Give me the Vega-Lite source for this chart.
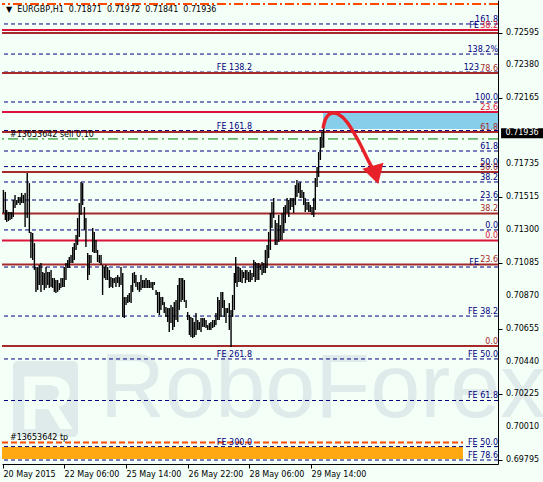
{
"$schema":"https://vega.github.io/schema/vega-lite/v6.json",
"width":496,"height":464,
"autosize":{"type":"none"},
"padding":{"left":2,"top":0,"right":45,"bottom":18},
"background":"#f4fff8",
"config":{"view":{"stroke":null},"text":{"font":"DejaVu Sans","fontSize":8},"axis":{"labelFont":"DejaVu Sans","labelFontSize":8,"labelColor":"#000000","tickColor":"#000000","domainColor":"#000000","grid":false,"title":null,"labelOverlap":false,"zindex":1}},
"datasets":{
"bars":[{"i":0.2,"lo":0.71413,"hi":0.71564},{"i":1.2,"lo":0.71367,"hi":0.71551},{"i":1.9,"lo":0.71354,"hi":0.71433},{"i":2.8,"lo":0.7136,"hi":0.7142},{"i":3.6,"lo":0.71367,"hi":0.7142},{"i":4.5,"lo":0.71374,"hi":0.7142},{"i":5.3,"lo":0.71387,"hi":0.71498},{"i":6.2,"lo":0.71446,"hi":0.71531},{"i":7.1,"lo":0.71465,"hi":0.71498},{"i":7.9,"lo":0.71478,"hi":0.71518},{"i":8.8,"lo":0.71465,"hi":0.71518},{"i":9.6,"lo":0.71478,"hi":0.71544},{"i":10.5,"lo":0.71478,"hi":0.71531},{"i":11.4,"lo":0.71321,"hi":0.71544},{"i":12.5,"lo":0.7138,"hi":0.71675},{"i":13.6,"lo":0.71282,"hi":0.71609},{"i":14.4,"lo":0.71118,"hi":0.71289},{"i":15.3,"lo":0.71105,"hi":0.71282},{"i":16.2,"lo":0.7104,"hi":0.71216},{"i":17,"lo":0.70896,"hi":0.71059},{"i":17.9,"lo":0.70909,"hi":0.71059},{"i":18.7,"lo":0.70941,"hi":0.71072},{"i":19.6,"lo":0.70896,"hi":0.71085},{"i":20.5,"lo":0.70941,"hi":0.71027},{"i":21.3,"lo":0.70909,"hi":0.7102},{"i":22.2,"lo":0.70922,"hi":0.71059},{"i":23.1,"lo":0.70941,"hi":0.71027},{"i":23.9,"lo":0.70922,"hi":0.71027},{"i":24.8,"lo":0.70928,"hi":0.7104},{"i":25.6,"lo":0.70922,"hi":0.70987},{"i":26.5,"lo":0.70896,"hi":0.70987},{"i":27.3,"lo":0.70889,"hi":0.70974},{"i":28.2,"lo":0.70896,"hi":0.70974},{"i":29.1,"lo":0.70909,"hi":0.70954},{"i":29.9,"lo":0.70922,"hi":0.70987},{"i":30.8,"lo":0.70928,"hi":0.70987},{"i":31.6,"lo":0.70928,"hi":0.71059},{"i":32.5,"lo":0.70974,"hi":0.71085},{"i":33.4,"lo":0.71053,"hi":0.71105},{"i":34.2,"lo":0.71053,"hi":0.71125},{"i":35.1,"lo":0.71085,"hi":0.71138},{"i":36,"lo":0.71085,"hi":0.7119},{"i":36.8,"lo":0.71105,"hi":0.71216},{"i":37.7,"lo":0.71171,"hi":0.71269},{"i":38.5,"lo":0.71203,"hi":0.7138},{"i":39.4,"lo":0.71256,"hi":0.71478},{"i":40.3,"lo":0.714,"hi":0.71616},{"i":41.1,"lo":0.71465,"hi":0.71609},{"i":42,"lo":0.71302,"hi":0.71452},{"i":42.8,"lo":0.7119,"hi":0.7138},{"i":43.7,"lo":0.70974,"hi":0.71151},{"i":44.5,"lo":0.71007,"hi":0.71138},{"i":45.4,"lo":0.71085,"hi":0.71138},{"i":46.3,"lo":0.71157,"hi":0.71315},{"i":47.1,"lo":0.71151,"hi":0.71289},{"i":48,"lo":0.71151,"hi":0.71236},{"i":48.8,"lo":0.71092,"hi":0.71171},{"i":49.7,"lo":0.71085,"hi":0.71138},{"i":50.6,"lo":0.71072,"hi":0.71138},{"i":51.4,"lo":0.70876,"hi":0.71072},{"i":52.3,"lo":0.70987,"hi":0.71059},{"i":53.1,"lo":0.70974,"hi":0.71072},{"i":54,"lo":0.70974,"hi":0.71059},{"i":54.9,"lo":0.70922,"hi":0.7104},{"i":55.7,"lo":0.70928,"hi":0.70994},{"i":56.6,"lo":0.70922,"hi":0.70987},{"i":57.4,"lo":0.70954,"hi":0.70987},{"i":58.3,"lo":0.70928,"hi":0.70994},{"i":59.2,"lo":0.70954,"hi":0.71007},{"i":60,"lo":0.70928,"hi":0.70994},{"i":60.9,"lo":0.70941,"hi":0.71059},{"i":61.8,"lo":0.70732,"hi":0.7102},{"i":62.6,"lo":0.70725,"hi":0.70863},{"i":63.5,"lo":0.7081,"hi":0.70863},{"i":64.4,"lo":0.70823,"hi":0.70876},{"i":65.2,"lo":0.7083,"hi":0.70889},{"i":66.1,"lo":0.70823,"hi":0.70941},{"i":66.9,"lo":0.70896,"hi":0.7102},{"i":67.8,"lo":0.70954,"hi":0.71027},{"i":68.6,"lo":0.70928,"hi":0.71007},{"i":69.5,"lo":0.70909,"hi":0.70961},{"i":70.4,"lo":0.70896,"hi":0.70961},{"i":71.2,"lo":0.70909,"hi":0.71007},{"i":72.1,"lo":0.70922,"hi":0.70974},{"i":72.9,"lo":0.70922,"hi":0.70974},{"i":73.8,"lo":0.70922,"hi":0.70987},{"i":74.7,"lo":0.70922,"hi":0.70974},{"i":75.5,"lo":0.70922,"hi":0.70974},{"i":76.4,"lo":0.70922,"hi":0.70961},{"i":77.3,"lo":0.70909,"hi":0.70961},{"i":78.1,"lo":0.70941,"hi":0.70961},{"i":79,"lo":0.70876,"hi":0.70909},{"i":79.8,"lo":0.70758,"hi":0.70896},{"i":80.7,"lo":0.70745,"hi":0.70896},{"i":81.5,"lo":0.70778,"hi":0.70863},{"i":82.4,"lo":0.7081,"hi":0.70863},{"i":83.2,"lo":0.70758,"hi":0.7083},{"i":84.1,"lo":0.70732,"hi":0.70797},{"i":85,"lo":0.70699,"hi":0.70791},{"i":85.8,"lo":0.70634,"hi":0.70791},{"i":86.7,"lo":0.70692,"hi":0.7081},{"i":87.6,"lo":0.70647,"hi":0.70797},{"i":88.4,"lo":0.70666,"hi":0.7083},{"i":89.3,"lo":0.70712,"hi":0.70843},{"i":90.2,"lo":0.70699,"hi":0.70941},{"i":91,"lo":0.70778,"hi":0.70987},{"i":91.9,"lo":0.7083,"hi":0.70987},{"i":92.7,"lo":0.70843,"hi":0.70987},{"i":93.6,"lo":0.7083,"hi":0.70974},{"i":94.5,"lo":0.70791,"hi":0.70843},{"i":95.3,"lo":0.70712,"hi":0.70764},{"i":96.2,"lo":0.70614,"hi":0.70745},{"i":97,"lo":0.70601,"hi":0.70732},{"i":97.9,"lo":0.70594,"hi":0.70725},{"i":98.7,"lo":0.70601,"hi":0.70699},{"i":99.6,"lo":0.70614,"hi":0.70758},{"i":100.5,"lo":0.70647,"hi":0.70712},{"i":101.3,"lo":0.70647,"hi":0.70699},{"i":102.2,"lo":0.70634,"hi":0.70725},{"i":103.1,"lo":0.70666,"hi":0.70725},{"i":103.9,"lo":0.70666,"hi":0.70725},{"i":104.8,"lo":0.7066,"hi":0.70712},{"i":105.6,"lo":0.70647,"hi":0.70679},{"i":106.5,"lo":0.70647,"hi":0.70692},{"i":107.3,"lo":0.70647,"hi":0.70699},{"i":108.2,"lo":0.7066,"hi":0.70712},{"i":109.1,"lo":0.70666,"hi":0.70712},{"i":109.9,"lo":0.70679,"hi":0.70758},{"i":110.8,"lo":0.70712,"hi":0.70863},{"i":111.6,"lo":0.70712,"hi":0.70843},{"i":112.5,"lo":0.70732,"hi":0.70896},{"i":113.4,"lo":0.70791,"hi":0.70896},{"i":114.2,"lo":0.70732,"hi":0.70843},{"i":115.1,"lo":0.70692,"hi":0.70791},{"i":115.9,"lo":0.70758,"hi":0.70791},{"i":116.8,"lo":0.70647,"hi":0.70823},{"i":117.7,"lo":0.70535,"hi":0.70778},{"i":118.5,"lo":0.70732,"hi":0.70876},{"i":119.4,"lo":0.70778,"hi":0.7102},{"i":120.1,"lo":0.70954,"hi":0.71125},{"i":120.8,"lo":0.70928,"hi":0.71059},{"i":121.7,"lo":0.70961,"hi":0.71059},{"i":122.5,"lo":0.70961,"hi":0.71053},{"i":123.4,"lo":0.70954,"hi":0.7104},{"i":124.2,"lo":0.70987,"hi":0.71027},{"i":125.1,"lo":0.70954,"hi":0.7104},{"i":125.9,"lo":0.70974,"hi":0.7104},{"i":126.8,"lo":0.70961,"hi":0.71027},{"i":127.6,"lo":0.70961,"hi":0.7104},{"i":128.5,"lo":0.70974,"hi":0.7102},{"i":129.4,"lo":0.70994,"hi":0.71105},{"i":130.2,"lo":0.70961,"hi":0.71092},{"i":131.1,"lo":0.70974,"hi":0.71085},{"i":132,"lo":0.70974,"hi":0.71085},{"i":132.8,"lo":0.7104,"hi":0.71072},{"i":133.7,"lo":0.71007,"hi":0.71092},{"i":134.6,"lo":0.7102,"hi":0.71085},{"i":135.4,"lo":0.7102,"hi":0.71171},{"i":136.3,"lo":0.71053,"hi":0.71203},{"i":137.1,"lo":0.71118,"hi":0.71289},{"i":138,"lo":0.71171,"hi":0.71413},{"i":138.8,"lo":0.71315,"hi":0.71485},{"i":139.7,"lo":0.7138,"hi":0.71511},{"i":140.5,"lo":0.71203,"hi":0.71367},{"i":141.4,"lo":0.71203,"hi":0.71347},{"i":142.3,"lo":0.71223,"hi":0.714},{"i":143.1,"lo":0.71236,"hi":0.71334},{"i":144,"lo":0.71236,"hi":0.71413},{"i":144.9,"lo":0.71282,"hi":0.71452},{"i":145.7,"lo":0.71347,"hi":0.71465},{"i":146.6,"lo":0.71413,"hi":0.71511},{"i":147.5,"lo":0.71387,"hi":0.71498},{"i":148.3,"lo":0.71433,"hi":0.71511},{"i":149.2,"lo":0.71452,"hi":0.71511},{"i":150,"lo":0.71413,"hi":0.71511},{"i":150.9,"lo":0.71465,"hi":0.71596},{"i":151.7,"lo":0.71518,"hi":0.71629},{"i":152.6,"lo":0.71544,"hi":0.71609},{"i":153.4,"lo":0.71511,"hi":0.71616},{"i":154.3,"lo":0.71511,"hi":0.71564},{"i":155.2,"lo":0.71465,"hi":0.71551},{"i":156,"lo":0.7142,"hi":0.71511},{"i":156.9,"lo":0.71433,"hi":0.71485},{"i":157.8,"lo":0.7142,"hi":0.71485},{"i":158.6,"lo":0.7142,"hi":0.71465},{"i":159.5,"lo":0.714,"hi":0.71452},{"i":160.4,"lo":0.71387,"hi":0.71511},{"i":161.2,"lo":0.71433,"hi":0.71642},{"i":162.1,"lo":0.71583,"hi":0.71714},{"i":162.9,"lo":0.71649,"hi":0.71812},{"i":163.8,"lo":0.7176,"hi":0.71911},{"i":164.6,"lo":0.71839,"hi":0.71944},{"i":165.5,"lo":0.71841,"hi":0.71972}],
"levels":[
{"p":0.72651,"obj":"A","right":"161.8","mid":"","pre":""},
{"p":0.72454,"obj":"A","right":"138.2%","mid":"","pre":""},
{"p":0.72336,"obj":"A","right":"","mid":"FE 138.2","pre":"123"},
{"p":0.7214,"obj":"A","right":"100.0","mid":"","pre":""},
{"p":0.71953,"obj":"A","right":"","mid":"FE 161.8","pre":""},
{"p":0.71819,"obj":"A","right":"61.8","mid":"","pre":""},
{"p":0.71717,"obj":"A","right":"50.0","mid":"","pre":""},
{"p":0.71616,"obj":"A","right":"38.2","mid":"","pre":""},
{"p":0.71498,"obj":"A","right":"23.6","mid":"","pre":""},
{"p":0.71302,"obj":"A","right":"0.0","mid":"","pre":""},
{"p":0.71059,"obj":"A","right":"","mid":"","pre":"FE"},
{"p":0.70738,"obj":"A","right":"FE 38.2","mid":"","pre":""},
{"p":0.70457,"obj":"A","right":"FE 50.0","mid":"FE 261.8","pre":""},
{"p":0.70185,"obj":"A","right":"FE 61.8","mid":"","pre":""},
{"p":0.69883,"obj":"A","right":"FE 50.0","mid":"FE 300.0","pre":""},
{"p":0.69795,"obj":"A","right":"FE 78.6","mid":"","pre":""},
{"p":0.72592,"obj":"B","right":"","mid":"","pre":""},
{"p":0.7233,"obj":"B","right":"78.6","mid":"","pre":""},
{"p":0.71943,"obj":"B","right":"61.8","mid":"","pre":""},
{"p":0.71681,"obj":"B","right":"50.0","mid":"","pre":""},
{"p":0.7141,"obj":"B","right":"38.2","mid":"","pre":""},
{"p":0.71076,"obj":"B","right":"23.6","mid":"","pre":""},
{"p":0.70542,"obj":"B","right":"0.0","mid":"","pre":""},
{"p":0.72612,"obj":"C","right":"38.2","mid":"","pre":"FE"},
{"p":0.72074,"obj":"C","right":"23.6","mid":"","pre":""},
{"p":0.71233,"obj":"C","right":"0.0","mid":"","pre":""}
],
"ylabels":[{"p":0.72595,"t":"0.72595"},{"p":0.7238,"t":"0.72380"},{"p":0.72165,"t":"0.72165"},{"p":0.71735,"t":"0.71735"},{"p":0.71515,"t":"0.71515"},{"p":0.713,"t":"0.71300"},{"p":0.71085,"t":"0.71085"},{"p":0.7087,"t":"0.70870"},{"p":0.70655,"t":"0.70655"},{"p":0.7044,"t":"0.70440"},{"p":0.70225,"t":"0.70225"},{"p":0.7001,"t":"0.70010"},{"p":0.69795,"t":"0.69795"}],
"orders":[{"p":0.71898,"kind":"open","t":"#13653642 sell 0.10"},{"p":0.72782,"kind":"sl","t":""},{"p":0.6991,"kind":"tp","t":"#13653642 tp"}],
"arrow":[{"o":1,"i":165.3,"p":0.71976},{"o":2,"i":166.7,"p":0.72035},{"o":3,"i":169.3,"p":0.72065},{"o":4,"i":172.9,"p":0.72061},{"o":5,"i":177.5,"p":0.72009},{"o":6,"i":183.2,"p":0.71891},{"o":7,"i":188.4,"p":0.7176},{"o":8,"i":190.2,"p":0.71715}]
},
"layer":[
{"data":{"values":[{"i":5.2,"i2":38.7,"p":0.69946,"p2":0.70443}]},"mark":{"type":"rect","color":"#dfeaea","cornerRadius":5},"encoding":{"x":{"field":"i","type":"quantitative"},"x2":{"field":"i2"},"y":{"field":"p","type":"quantitative"},"y2":{"field":"p2"}}},
{"data":{"values":[{"i":22.5,"p":0.70000,"t":"R"}]},"mark":{"type":"text","font":"Liberation Sans","fontWeight":"bold","fontSize":76,"align":"center","baseline":"alphabetic","color":"#f4fff8"},"encoding":{"x":{"field":"i","type":"quantitative"},"y":{"field":"p","type":"quantitative"},"text":{"field":"t"}}},
{"data":{"values":[{"i":50.1,"p":0.70078,"t":"RoboForex"}]},"mark":{"type":"text","font":"Liberation Sans","fontSize":90,"align":"left","baseline":"alphabetic","color":"#dfeaea"},"encoding":{"x":{"field":"i","type":"quantitative"},"y":{"field":"p","type":"quantitative"},"text":{"field":"t"}}},
{"data":{"values":[{"i":-0.52,"i2":237.4,"p":0.69802,"p2":0.6988}]},"mark":{"type":"rect","color":"#ffa812"},"encoding":{"x":{"field":"i","type":"quantitative"},"x2":{"field":"i2"},"y":{"field":"p","type":"quantitative"},"y2":{"field":"p2"}}},
{"data":{"values":[{"i":165.2,"i2":255.48,"p":0.71963,"p2":0.72068}]},"mark":{"type":"rect","color":"#87ceeb"},"encoding":{"x":{"field":"i","type":"quantitative"},"x2":{"field":"i2"},"y":{"field":"p","type":"quantitative"},"y2":{"field":"p2"}}},
{"data":{"name":"levels"},"transform":[{"filter":"datum.obj == 'A'"}],"mark":{"type":"rule","color":"#000080","strokeWidth":1,"strokeDash":[4,3]},"encoding":{"y":{"field":"p","type":"quantitative"}}},
{"data":{"name":"levels"},"transform":[{"filter":"datum.obj == 'B'"}],"mark":{"type":"rule","color":"#a52a2a","strokeWidth":2},"encoding":{"y":{"field":"p","type":"quantitative"}}},
{"data":{"name":"levels"},"transform":[{"filter":"datum.obj == 'C'"}],"mark":{"type":"rule","color":"#dc143c","strokeWidth":2},"encoding":{"y":{"field":"p","type":"quantitative"}}},
{"data":{"name":"orders"},"transform":[{"filter":"datum.kind == 'open'"}],"mark":{"type":"rule","color":"#008000","strokeWidth":1,"strokeDash":[10,4,2,4]},"encoding":{"y":{"field":"p","type":"quantitative"}}},
{"data":{"name":"orders"},"transform":[{"filter":"datum.kind == 'sl'"}],"mark":{"type":"rule","color":"#ff4a00","strokeWidth":2,"strokeDash":[9,3,2,3]},"encoding":{"y":{"field":"p","type":"quantitative"}}},
{"data":{"name":"orders"},"transform":[{"filter":"datum.kind == 'tp'"}],"mark":{"type":"rule","color":"#ff4a00","strokeWidth":2,"strokeDash":[6,3]},"encoding":{"y":{"field":"p","type":"quantitative"},"x":{"datum":-0.52,"type":"quantitative"},"x2":{"datum":237.4}}},
{"data":{"name":"orders"},"transform":[{"filter":"datum.t != ''"}],"mark":{"type":"text","align":"left","baseline":"alphabetic","dy":-2,"color":"#000000"},"encoding":{"y":{"field":"p","type":"quantitative"},"x":{"datum":3.6,"type":"quantitative"},"text":{"field":"t"}}},
{"data":{"name":"bars"},"mark":{"type":"rule","color":"#000000","strokeWidth":1.4},"encoding":{
"x":{"field":"i","type":"quantitative","scale":{"domain":[-0.52,255.48],"nice":false,"zero":false},"axis":{"orient":"bottom","values":[0,31.5,63.5,95.5,127,159],"labelExpr":"{'0':'20 May 2015','31.5':'22 May 06:00','63.5':'25 May 14:00','95.5':'26 May 22:00','127':'28 May 06:00','159':'29 May 14:00'}[datum.value]","labelAlign":"left","labelBaseline":"top","tickSize":4,"labelPadding":2,"labelFlush":false,"labelOverlap":false,"labelBound":false}},
"y":{"field":"lo","type":"quantitative","scale":{"domain":[0.69769,0.72808],"nice":false,"zero":false},"axis":{"orient":"right","values":[0.72595,0.7238,0.72165,0.71735,0.71515,0.713,0.71085,0.7087,0.70655,0.7044,0.70225,0.7001,0.69795],"labels":false,"tickSize":4}},
"y2":{"field":"hi"}}},
{"data":{"name":"levels"},"transform":[{"filter":"datum.right != ''"}],"mark":{"type":"text","align":"right","baseline":"alphabetic","dy":-2},"encoding":{"y":{"field":"p","type":"quantitative"},"x":{"datum":255.48,"type":"quantitative"},"text":{"field":"right"},"color":{"field":"obj","type":"nominal","scale":{"domain":["A","B","C"],"range":["#000080","#a52a2a","#dc143c"]},"legend":null}}},
{"data":{"name":"levels"},"transform":[{"filter":"datum.pre != ''"}],"mark":{"type":"text","align":"right","baseline":"alphabetic","dy":-2,"dx":-19,"color":"#000080"},"encoding":{"y":{"field":"p","type":"quantitative"},"x":{"datum":255.48,"type":"quantitative"},"text":{"field":"pre"}}},
{"data":{"name":"levels"},"transform":[{"filter":"datum.mid != ''"}],"mark":{"type":"text","align":"right","baseline":"alphabetic","dy":-2,"color":"#000080"},"encoding":{"y":{"field":"p","type":"quantitative"},"x":{"datum":128.5,"type":"quantitative"},"text":{"field":"mid"}}},
{"data":{"name":"arrow"},"mark":{"type":"line","color":"#e8202a","strokeWidth":3.5,"interpolate":"cardinal","strokeCap":"round"},"encoding":{"x":{"field":"i","type":"quantitative"},"y":{"field":"p","type":"quantitative"},"order":{"field":"o"}}},
{"data":{"values":[{"i":192.3,"p":0.71662}]},"mark":{"type":"point","shape":"triangle-down","filled":true,"color":"#e8202a","opacity":1,"size":480,"angle":344},"encoding":{"x":{"field":"i","type":"quantitative"},"y":{"field":"p","type":"quantitative"}}},
{"data":{"name":"ylabels"},"mark":{"type":"text","align":"left","baseline":"middle","dx":8,"color":"#000000"},"encoding":{"x":{"datum":255.48,"type":"quantitative"},"y":{"field":"p","type":"quantitative"},"text":{"field":"t"}}},
{"data":{"values":[{"p":0.71936,"t":"0.71936"}]},"mark":{"type":"rect","color":"#000000","width":42,"height":10},"encoding":{"x":{"datum":267.9,"type":"quantitative"},"y":{"field":"p","type":"quantitative"}}},
{"data":{"values":[{"p":0.71936,"t":"0.71936"}]},"mark":{"type":"text","color":"#ffffff","align":"center","baseline":"middle"},"encoding":{"x":{"datum":267.9,"type":"quantitative"},"y":{"field":"p","type":"quantitative"},"text":{"field":"t"}}},
{"mark":{"type":"rule","color":"#000000","strokeWidth":1},"encoding":{"x":{"datum":-0.52,"type":"quantitative"}}},
{"data":{"values":[{"i":1.5,"p":0.72742,"t":"▼\u00a0 EURGBP,H1\u00a0 0.71871\u00a0 0.71972\u00a0 0.71841\u00a0 0.71936"}]},"mark":{"type":"text","align":"left","baseline":"middle","color":"#000000"},"encoding":{"x":{"field":"i","type":"quantitative"},"y":{"field":"p","type":"quantitative"},"text":{"field":"t"}}}
]
}
